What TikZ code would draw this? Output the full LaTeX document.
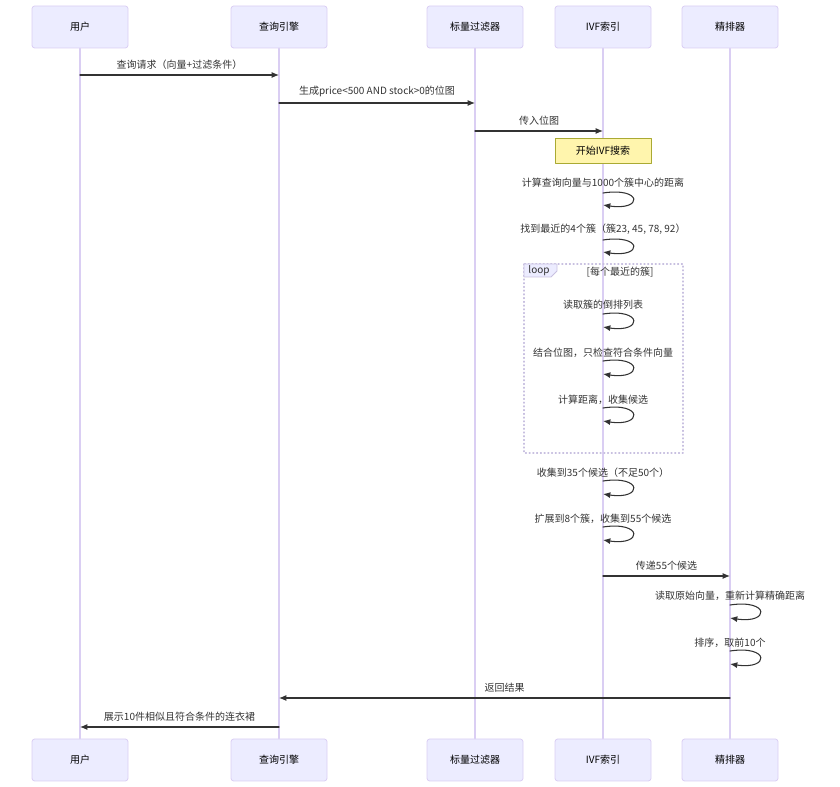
\documentclass[tikz,border=0pt]{standalone}
\usepackage{fontspec}
\setmainfont{Noto Sans CJK SC}
\usetikzlibrary{arrows.meta}

\definecolor{actorfill}{HTML}{ECECFF}
\definecolor{actorline}{HTML}{DACEF3}
\definecolor{notefill}{HTML}{FFF5AD}
\definecolor{noteline}{HTML}{AAAA33}
\definecolor{msgline}{HTML}{333333}
\definecolor{loopline}{HTML}{C8C0E0}

\begin{document}
\begin{tikzpicture}[x=0.75pt,y=-0.75pt,line cap=round,line join=round,
        font=\fontsize{7.5}{9}\selectfont,
        actor/.style={draw=actorline,fill=actorfill,rounded corners=2pt,
            minimum width=72pt,minimum height=31.5pt,line width=0.6pt},
        life/.style={draw=actorline,line width=0.8pt},
        msg/.style={draw=msgline,line width=0.8pt,
            -{Latex[length=5.5pt,width=4.5pt]}},
        lbl/.style={text=msgline,inner sep=1pt},
        note/.style={draw=noteline,fill=notefill,line width=0.6pt,
            minimum width=72pt,minimum height=18.75pt}]
        \useasboundingbox (0,0) rectangle (840,787);

        % Teilnehmer und Lebenslinien
        \foreach \n/\x/\t in {usr/80/用户,eng/279/查询引擎,flt/475/标量过滤器,
                ivf/603/IVF索引,rrk/730/精排器} {
            \node[actor] (\n-top) at (\x,27) {\t};
            \node[actor] (\n-bot) at (\x,760) {\t};
            \draw[life] (\n-top) -- (\n-bot);
        }

        % Anfrage bis zum IVF-Index
        \draw[msg] (usr-top |- 0,75) -- (eng-top |- 0,75)
            node[lbl,midway,above=3pt] {查询请求（向量+过滤条件）};
        \draw[msg] (eng-top |- 0,103) -- (flt-top |- 0,103)
            node[lbl,midway,above=3pt] {生成price<500 AND stock>0的位图};
        \draw[msg] (flt-top |- 0,131) -- (ivf-top |- 0,131)
            node[lbl,midway,above=3pt] {传入位图};
        \node[note] (start) at (603,150.5) {开始IVF搜索};

        % Selbstaufrufe im IVF-Index
        \node[lbl] (dist) at (ivf-top |- 0,183) {计算查询向量与1000个簇中心的距离};
        \draw[msg] (ivf-top |- 0,193) .. controls +(40,-6) and +(40,6) .. (ivf-top |- 0,205);
        \node[lbl] (near) at (ivf-top |- 0,229) {找到最近的4个簇（簇23, 45, 78, 92）};
        \draw[msg] (ivf-top |- 0,240) .. controls +(40,-6) and +(40,6) .. (ivf-top |- 0,252);

        % Schleife ueber die Cluster
        \draw[loopline,dotted,line width=0.8pt] (524,264) rectangle (683,453);
        \draw[loopline,fill=actorfill,line width=0.6pt]
            (524,264) -- (557,264) -- (557,271) -- (551,277) -- (524,277) -- cycle;
        \node[lbl] (looptag) at (539,271) {loop};
        \node[lbl] (loopcond) at (620,272) {[每个最近的簇]};
        \node[lbl] (read) at (ivf-top |- 0,305) {读取簇的倒排列表};
        \draw[msg] (ivf-top |- 0,314) .. controls +(40,-6) and +(40,6) .. (ivf-top |- 0,327);
        \node[lbl] (check) at (ivf-top |- 0,353) {结合位图，只检查符合条件向量};
        \draw[msg] (ivf-top |- 0,361) .. controls +(40,-6) and +(40,6) .. (ivf-top |- 0,374);
        \node[lbl] (coll) at (ivf-top |- 0,400) {计算距离，收集候选};
        \draw[msg] (ivf-top |- 0,408) .. controls +(40,-6) and +(40,6) .. (ivf-top |- 0,421);

        \node[lbl] (few) at (ivf-top |- 0,473) {收集到35个候选（不足50个）};
        \draw[msg] (ivf-top |- 0,481) .. controls +(40,-6) and +(40,6) .. (ivf-top |- 0,494);
        \node[lbl] (more) at (ivf-top |- 0,519) {扩展到8个簇，收集到55个候选};
        \draw[msg] (ivf-top |- 0,527) .. controls +(40,-6) and +(40,6) .. (ivf-top |- 0,540);

        % Feinsortierung
        \draw[msg] (ivf-top |- 0,576) -- (rrk-top |- 0,576)
            node[lbl,midway,above=3pt] {传递55个候选};
        \node[lbl] (exact) at (rrk-top |- 0,596) {读取原始向量，重新计算精确距离};
        \draw[msg] (rrk-top |- 0,605) .. controls +(40,-6) and +(40,6) .. (rrk-top |- 0,618);
        \node[lbl] (top10) at (rrk-top |- 0,643) {排序，取前10个};
        \draw[msg] (rrk-top |- 0,651) .. controls +(40,-6) and +(40,6) .. (rrk-top |- 0,664);

        % Rueckgabe
        \draw[msg] (rrk-top |- 0,698) -- (eng-top |- 0,698)
            node[lbl,midway,above=3pt] {返回结果};
        \draw[msg] (eng-top |- 0,727) -- (usr-top |- 0,727)
            node[lbl,midway,above=3pt] {展示10件相似且符合条件的连衣裙};
    \end{tikzpicture}
\end{document}
